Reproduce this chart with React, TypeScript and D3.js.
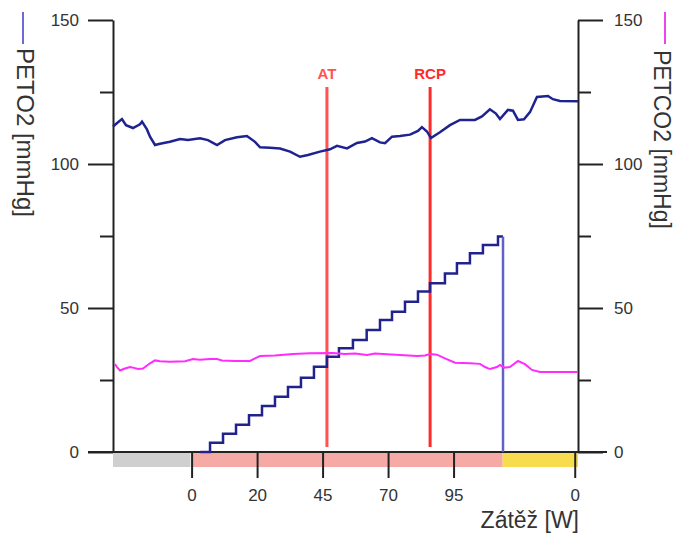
import React, { useRef, useEffect } from 'react';
import * as d3 from 'd3';

// time axis in seconds (one tick step = 60 s)
const xTicks = [72, 132, 192, 252, 312, 423];
const xTickLabels = ['0', '20', '45', '70', '95', '0'];

const yMajor = [0, 50, 100, 150];
const yMinor = [25, 75, 125];

// phases under the axis
const phaseStarts = [0, 72, 357];
const phaseEnds = [71, 357, 426];
const phaseColors = ['#cfcfcf', '#f6aaa5', '#f7dc4e'];

const markerNames = ['AT', 'RCP'];
const markerTimes = [196, 290.5];
const markerColors = ['#ff5252', '#ff2b2b'];

// PETO2 [mmHg]
const peto2Time = [0, 4.6, 8.2, 11.9, 18.3, 24.7, 26.6, 31.1, 33.9, 38.5, 43.1, 52.2, 61.4, 68.7, 79.7, 87.0, 95.3, 102.6, 113.6, 122.7, 130.1, 134.7, 143.8, 153.0, 162.2, 171.3, 178.6, 189.6, 198.8, 205.2, 214.4, 223.5, 230.9, 237.2, 244.6, 249.2, 255.6, 262.9, 272.1, 279.4, 283.0, 287.6, 291.3, 299.5, 308.7, 317.9, 331.6, 338.0, 345.3, 350.8, 354.5, 361.8, 366.4, 371.0, 376.5, 382.0, 388.4, 398.5, 403.0, 409.5, 426.0];
const peto2 = [113, 114.5, 115.6, 113.5, 112.5, 113.8, 114.7, 112, 109.5, 106.6, 107, 107.7, 108.7, 108.3, 108.9, 108.3, 106.6, 108.3, 109.3, 109.7, 107.7, 105.8, 105.6, 105.4, 104.3, 102.5, 103.1, 104.3, 105.1, 106.3, 105.4, 107.3, 107.8, 109, 107.5, 107.2, 109.5, 109.7, 110.2, 111.5, 112.8, 111.3, 109, 111, 113.5, 115.3, 115.3, 116.5, 119, 117.5, 115.6, 118.8, 118.5, 115.3, 115.5, 118, 123.3, 123.6, 122.5, 121.9, 121.8];

// PETCO2 [mmHg]
const petco2Time = [1.8, 3.7, 6.4, 11.0, 15.6, 18.3, 22.9, 27.5, 33.9, 38.5, 43.1, 52.2, 66.0, 73.3, 79.7, 88.9, 95.3, 99.8, 111.7, 125.5, 130.1, 134.7, 148.4, 164.9, 180.5, 201.5, 212.5, 221.7, 232.7, 240.0, 247.3, 262.9, 278.5, 285.8, 290.4, 296.8, 304.1, 313.3, 327.0, 336.2, 340.8, 345.3, 351.7, 354.5, 359.0, 363.6, 371.0, 377.4, 383.8, 391.1, 426.0];
const petco2 = [30.5, 29.5, 28.3, 29, 29.5, 29.3, 28.8, 29, 30.8, 31.8, 31.5, 31.3, 31.5, 32.3, 32, 32.3, 32.3, 31.8, 31.6, 31.6, 32.5, 33.3, 33.5, 34, 34.3, 34.4, 34, 34.2, 33.7, 34.2, 34, 33.7, 33.3, 33.5, 34, 33.8, 32.5, 31, 30.8, 30.6, 29.5, 28.8, 29.5, 30.2, 29.3, 29.5, 31.6, 30.5, 28.5, 27.8, 27.8];

// load ramp (steps)
const loadTime = [80, 88.9, 100.8, 112.7, 124.6, 136.5, 148.4, 160.3, 172.2, 184.1, 196.0, 207.0, 219.8, 232.4, 244.6, 255.6, 267.5, 279.4, 290.4, 304.1, 315.1, 327.0, 338.9, 352.7, 357.3];
const load = [0, 3.2, 6.3, 9.5, 12.8, 16.0, 19.2, 22.6, 25.8, 29.6, 33.1, 36.0, 38.9, 42.4, 45.8, 48.7, 52.2, 55.7, 58.6, 62.0, 65.5, 69.0, 71.9, 74.8, 74.8];
const loadEndTime = 357.3;

const W = 676;
const H = 536;
const FONT = '"Liberation Sans", Arial, sans-serif';

const App = () => {
  const svgRef = useRef(null);

  useEffect(() => {
    const svg = d3.select(svgRef.current);
    svg.selectAll('*').remove();

    const x = d3.scaleLinear().domain([0, 426]).range([113, 578]);
    const y = d3.scaleLinear().domain([0, 150]).range([452, 20]);
    const majorLen = 25;
    const minorLen = 13;
    const axisColor = '#222';
    const textColor = '#333';

    const styleAxis = (g) => {
      g.selectAll('path.domain').attr('stroke', axisColor).attr('stroke-width', 2);
      g.selectAll('.tick line').attr('stroke', axisColor).attr('stroke-width', 2);
      g.selectAll('.tick text').attr('fill', textColor).attr('font-size', 17).attr('font-family', FONT);
    };

    // phase bands under the axis
    svg.append('g').selectAll('rect')
      .data(phaseStarts)
      .join('rect')
      .attr('x', (d) => x(d))
      .attr('width', (d, i) => x(phaseEnds[i]) - x(d))
      .attr('y', y(0) + 1)
      .attr('height', 14)
      .attr('fill', (d, i) => phaseColors[i]);

    // left axis
    const left = svg.append('g').attr('transform', `translate(${x.range()[0]},0)`);
    left.call(d3.axisLeft(y).tickValues(yMajor).tickSize(majorLen).tickSizeOuter(0).tickPadding(9)).call(styleAxis);
    left.append('g').call(d3.axisLeft(y).tickValues(yMinor).tickSize(minorLen).tickFormat(() => '')).call((g) => g.select('.domain').remove()).call(styleAxis);

    // right axis
    const right = svg.append('g').attr('transform', `translate(${x.range()[1]},0)`);
    right.call(d3.axisRight(y).tickValues(yMajor).tickSize(majorLen).tickSizeOuter(0).tickPadding(11)).call(styleAxis);
    right.append('g').call(d3.axisRight(y).tickValues(yMinor).tickSize(minorLen).tickFormat(() => '')).call((g) => g.select('.domain').remove()).call(styleAxis);

    // bottom axis
    const bottom = svg.append('g').attr('transform', `translate(0,${y(0)})`);
    bottom.call(d3.axisBottom(x).tickValues(xTicks).tickSize(26).tickPadding(11).tickFormat((d, i) => xTickLabels[i]))
      .call((g) => g.select('.domain').remove())
      .call(styleAxis);
    bottom.append('line')
      .attr('x1', x.range()[0] - majorLen)
      .attr('x2', x.range()[1] + majorLen + 4)
      .attr('stroke', axisColor)
      .attr('stroke-width', 2);

    // AT / RCP markers
    markerTimes.forEach((t, i) => {
      svg.append('line')
        .attr('x1', x(t)).attr('x2', x(t))
        .attr('y1', 87).attr('y2', y(0) - 5)
        .attr('stroke', markerColors[i])
        .attr('stroke-width', 3);
      svg.append('text')
        .attr('x', x(t))
        .attr('y', 79)
        .attr('text-anchor', 'middle')
        .attr('font-family', FONT)
        .attr('font-weight', 'bold')
        .attr('font-size', 15)
        .attr('fill', markerColors[i])
        .text(markerNames[i]);
    });

    // load staircase
    const stepLine = d3.line()
      .x((d, i) => x(loadTime[i]))
      .y((d) => y(d))
      .curve(d3.curveStepAfter);
    svg.append('path')
      .attr('d', stepLine(load))
      .attr('fill', 'none')
      .attr('stroke', '#22228c')
      .attr('stroke-width', 2.5);
    svg.append('line')
      .attr('x1', x(loadEndTime)).attr('x2', x(loadEndTime))
      .attr('y1', y(load[load.length - 1])).attr('y2', y(0))
      .attr('stroke', '#6262c6')
      .attr('stroke-width', 2.5);

    // PETCO2
    const co2Line = d3.line()
      .x((d, i) => x(petco2Time[i]))
      .y((d) => y(d));
    svg.append('path')
      .attr('d', co2Line(petco2))
      .attr('fill', 'none')
      .attr('stroke', '#ff2bff')
      .attr('stroke-width', 2);

    // PETO2
    const o2Line = d3.line()
      .x((d, i) => x(peto2Time[i]))
      .y((d) => y(d));
    svg.append('path')
      .attr('d', o2Line(peto2))
      .attr('fill', 'none')
      .attr('stroke', '#1f2390')
      .attr('stroke-width', 2.5);

    // axis titles with legend strokes
    svg.append('line').attr('x1', 23).attr('x2', 23).attr('y1', 12).attr('y2', 44)
      .attr('stroke', '#6b6bd6').attr('stroke-width', 2);
    svg.append('text')
      .attr('transform', 'translate(17,48) rotate(90)')
      .attr('font-family', FONT).attr('font-size', 24).attr('fill', textColor)
      .text('PETO2 [mmHg]');

    svg.append('line').attr('x1', 665).attr('x2', 665).attr('y1', 12).attr('y2', 44)
      .attr('stroke', '#ee44ee').attr('stroke-width', 2);
    svg.append('text')
      .attr('transform', 'translate(654,50) rotate(90)')
      .attr('font-family', FONT).attr('font-size', 23).attr('fill', textColor)
      .text('PETCO2 [mmHg]');

    svg.append('text')
      .attr('x', 579)
      .attr('y', 528)
      .attr('text-anchor', 'end')
      .attr('font-family', FONT).attr('font-size', 23).attr('fill', textColor)
      .text('Zátěž [W]');
  }, []);

  return (
    <svg
      ref={svgRef}
      width={W}
      height={H}
      style={{ position: 'absolute', left: 0, top: 0, background: '#fff' }}
    />
  );
};

export default App;
